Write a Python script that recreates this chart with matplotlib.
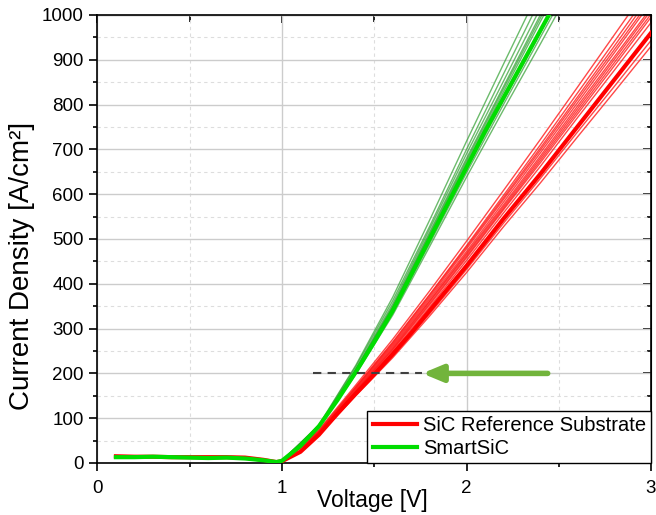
import matplotlib
matplotlib.use("Agg")
import matplotlib.pyplot as plt
from matplotlib.ticker import MultipleLocator

plt.rcParams['font.family'] = ['Liberation Sans', 'DejaVu Sans']

# low-voltage (flat) part, shared by all curves
v_low = [0.1, 0.2, 0.3, 0.4, 0.5, 0.6, 0.7, 0.8, 0.9, 0.97]
red_low = [15, 14, 14, 13, 13, 13, 13, 12, 7, 2]
green_low = [13, 13, 14, 13, 12, 11, 12, 10, 6, 2]

# thick (representative) curves
v_red = [1.0, 1.1, 1.2, 1.3, 1.4, 1.5, 1.6, 1.7, 1.8, 1.9, 2.0, 2.2, 2.4, 2.6, 2.8, 3.0]
red_main = [4, 25, 63, 110, 155, 198, 243, 290, 340, 390, 440, 545, 645, 750, 855, 960]
v_green = [1.0, 1.1, 1.2, 1.3, 1.4, 1.5, 1.6, 1.7, 1.8, 1.9, 2.0, 2.1, 2.2, 2.3, 2.4, 2.5]
green_main = [5, 38, 82, 140, 203, 270, 340, 420, 500, 580, 660, 740, 815, 890, 965, 1040]

# thin curves (individual devices)
v_red_thin = [1.0, 1.2, 1.4, 1.6, 1.8, 2.0, 2.2, 2.4, 2.6, 2.8, 3.0]
red_thin = [
    [4, 70, 168, 265, 370, 478, 588, 698, 810, 922, 1035],
    [4, 72, 170, 270, 376, 485, 597, 710, 825, 940, 1055],
    [5, 74, 174, 276, 384, 495, 608, 722, 838, 955, 1072],
    [4, 67, 162, 256, 360, 465, 572, 680, 790, 900, 1010],
    [4, 66, 160, 252, 353, 458, 565, 670, 778, 886, 995],
    [4, 69, 166, 262, 366, 472, 582, 692, 803, 915, 1028],
    [4, 65, 158, 248, 348, 452, 558, 662, 770, 876, 983],
    [4, 63, 152, 238, 333, 432, 535, 635, 738, 840, 943],
    [4, 62, 150, 235, 328, 425, 527, 625, 727, 828, 930],
    [4, 71, 169, 268, 374, 482, 592, 703, 816, 930, 1045],
    [4, 66, 161, 254, 356, 461, 568, 675, 784, 893, 1002],
    [4, 68, 164, 259, 362, 468, 576, 685, 796, 906, 1016],
]
v_green_thin = [1.0, 1.2, 1.4, 1.6, 1.8, 2.0, 2.2, 2.4, 2.6]
green_thin = [
    [5, 84, 215, 362, 528, 700, 868, 1035, 1200],
    [5, 85, 218, 370, 542, 718, 890, 1060, 1230],
    [5, 82, 208, 350, 515, 680, 840, 1000, 1160],
    [5, 80, 200, 335, 490, 648, 800, 950, 1100],
    [5, 79, 198, 330, 483, 638, 788, 935, 1085],
    [5, 81, 205, 345, 507, 670, 828, 985, 1140],
    [5, 83, 210, 355, 522, 690, 852, 1015, 1175],
    [5, 80, 202, 338, 496, 655, 808, 960, 1112],
    [5, 82, 207, 348, 511, 675, 835, 993, 1150],
]

labels = ["SiC Reference Substrate", "SmartSiC"]

# arrow / reference line at 200 A/cm2
ref_j = 200
dash_v = [1.17, 1.76]
arrow_from = 2.44
arrow_to = 1.76

fig = plt.figure(figsize=(6.56, 5.15), dpi=100)
ax = fig.add_axes([0.1486, 0.101, 0.8438, 0.8699])

for ys in red_thin:
    ax.plot(v_low + v_red_thin, red_low + ys, color='#ff1a1a', lw=1.0, alpha=0.8, zorder=2)
for ys in green_thin:
    ax.plot(v_low + v_green_thin, green_low + ys, color='#2e9e2e', lw=1.0, alpha=0.7, zorder=2)

ax.plot(v_low + v_red, red_low + red_main, color='#ff0000', lw=3, zorder=3, label=labels[0])
ax.plot(v_low + v_green, green_low + green_main, color='#00dd00', lw=3, zorder=3, label=labels[1])

ax.plot(dash_v, [ref_j, ref_j], color='#404040', lw=1.5, ls=(0, (4, 3)), zorder=4)
ax.annotate('', xy=(arrow_to, ref_j), xytext=(arrow_from, ref_j),
            arrowprops=dict(arrowstyle='-|>,head_length=1.2,head_width=0.5',
                            lw=4, color='#72b43c', shrinkA=0, shrinkB=0), zorder=5)

ax.set_xlim(0, 3)
ax.set_ylim(0, 1000)
ax.xaxis.set_major_locator(MultipleLocator(1))
ax.xaxis.set_minor_locator(MultipleLocator(0.5))
ax.yaxis.set_major_locator(MultipleLocator(100))
ax.yaxis.set_minor_locator(MultipleLocator(50))

ax.grid(which='major', color='#cccccc', lw=1)
ax.grid(which='minor', color='#dddddd', lw=0.8, ls=(0, (3, 3)))
ax.set_axisbelow(True)

ax.tick_params(which='both', direction='out', top=False, right=False, labelsize=13.5, width=1.2)
ax.tick_params(axis='x', which='major', pad=6)
ax.tick_params(axis='y', which='major', pad=4)
ax.tick_params(which='major', length=6)
ax.tick_params(which='minor', length=3)
sec_x = ax.secondary_xaxis('top')
sec_x.xaxis.set_major_locator(MultipleLocator(1))
sec_x.xaxis.set_minor_locator(MultipleLocator(0.5))
sec_x.tick_params(which='both', direction='in', labeltop=False, width=1.2)
sec_x.tick_params(which='major', length=6)
sec_x.tick_params(which='minor', length=5)
sec_y = ax.secondary_yaxis('right')
sec_y.yaxis.set_major_locator(MultipleLocator(100))
sec_y.yaxis.set_minor_locator(MultipleLocator(50))
sec_y.tick_params(which='both', direction='in', labelright=False, width=1.2)
sec_y.tick_params(which='major', length=6)
sec_y.tick_params(which='minor', length=3)
for s in ax.spines.values():
    s.set_linewidth(1.2)

ax.set_xlabel('Voltage [V]', fontsize=16.5)
ax.xaxis.set_label_coords(0.497, -0.058)
ax.set_ylabel('Current Density [A/cm²]', fontsize=20)
ax.yaxis.set_label_coords(-0.112, 0.44)

leg = ax.legend(loc='lower right', bbox_to_anchor=(1, 0), borderaxespad=0,
                fancybox=False, edgecolor='black', framealpha=1, fontsize=14.5,
                handlelength=2.2, borderpad=0.25, labelspacing=0.2, handletextpad=0.3)
leg.get_frame().set_linewidth(1.0)
leg.set_zorder(10)

fig.savefig('out.png', dpi=100)
